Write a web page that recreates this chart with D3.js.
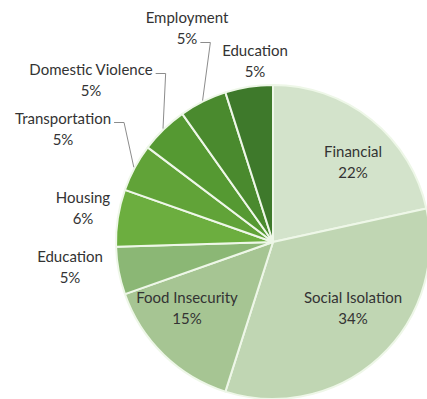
<!DOCTYPE html>
<html>
<head>
<meta charset="utf-8">
<script src="https://cdn.jsdelivr.net/npm/d3@7"></script>
<style>
  html, body { margin: 0; padding: 0; background: #ffffff; }
  svg { display: block; }
  text { font-family: Lato, "Open Sans", sans-serif; font-size: 15px; fill: #333333; }
</style>
</head>
<body>
<svg id="chart" width="427" height="399"></svg>
<script>
// Categories of need, clockwise from 12 o'clock
const categories = [
  "Financial", "Social Isolation", "Food Insecurity", "Education", "Housing",
  "Transportation", "Domestic Violence", "Employment", "Education"
];
// Share of respondents (%)
const values = [22, 34, 15, 5, 6, 5, 5, 5, 5];
// Slice fills, light to dark green
const colors = [
  "#d3e3cb", "#c0d6b3", "#a6c593", "#8bb775", "#6cae3f",
  "#61a338", "#559932", "#4a8a2e", "#3e792b"
];

// Label placement: text centre and, for outside labels, which line carries the leader
const labelLayout = [
  { x: 353, y: 161 },
  { x: 353, y: 307 },
  { x: 187, y: 307 },
  { x: 70,  y: 266 },
  { x: 83,  y: 207 },
  { x: 63,  y: 128, leader: 0 },
  { x: 91,  y: 79,  leader: 0 },
  { x: 187, y: 27,  leader: 1 },
  { x: 255, y: 60 }
];

const svg = d3.select("#chart");
const cx = 273, cy = 242, R = 157, lineGap = 21;

const pie = d3.pie().sort(null).value(d => d)(values);
const arc = d3.arc().innerRadius(0).outerRadius(R);

const g = svg.append("g").attr("transform", `translate(${cx},${cy})`);

g.selectAll("path.slice")
  .data(pie)
  .join("path")
  .attr("class", "slice")
  .attr("d", arc)
  .attr("fill", (d, i) => colors[i])
  .attr("stroke", "#eef7e8")
  .attr("stroke-width", 2)
  .attr("stroke-linejoin", "round");

// Labels: name on the first line, percentage beneath
const labels = svg.append("g");
pie.forEach((d, i) => {
  const L = labelLayout[i];
  const t = labels.append("text")
    .attr("text-anchor", "middle")
    .attr("x", L.x);
  const n = t.append("tspan").attr("x", L.x).attr("y", L.y - lineGap / 2)
    .attr("dominant-baseline", "central").text(categories[i]);
  const p = t.append("tspan").attr("x", L.x).attr("y", L.y + lineGap / 2)
    .attr("dominant-baseline", "central").text(values[i] + "%");

  if (L.leader !== undefined) {
    const span = L.leader === 0 ? n : p;
    const w = span.node().getComputedTextLength();
    const ly = (L.leader === 0 ? L.y - lineGap / 2 : L.y + lineGap / 2) + 5;
    const x0 = L.x + w / 2 + 3;
    const x1 = x0 + 10;
    const mid = (d.startAngle + d.endAngle) / 2;
    const ex = cx + Math.sin(mid) * (R + 1);
    const ey = cy - Math.cos(mid) * (R + 1);
    labels.append("path")
      .attr("d", d3.line()([[x0, ly], [x1, ly], [ex, ey]]))
      .attr("fill", "none")
      .attr("stroke", "#8c8c8c")
      .attr("stroke-width", 1);
  }
});
</script>
</body>
</html>
